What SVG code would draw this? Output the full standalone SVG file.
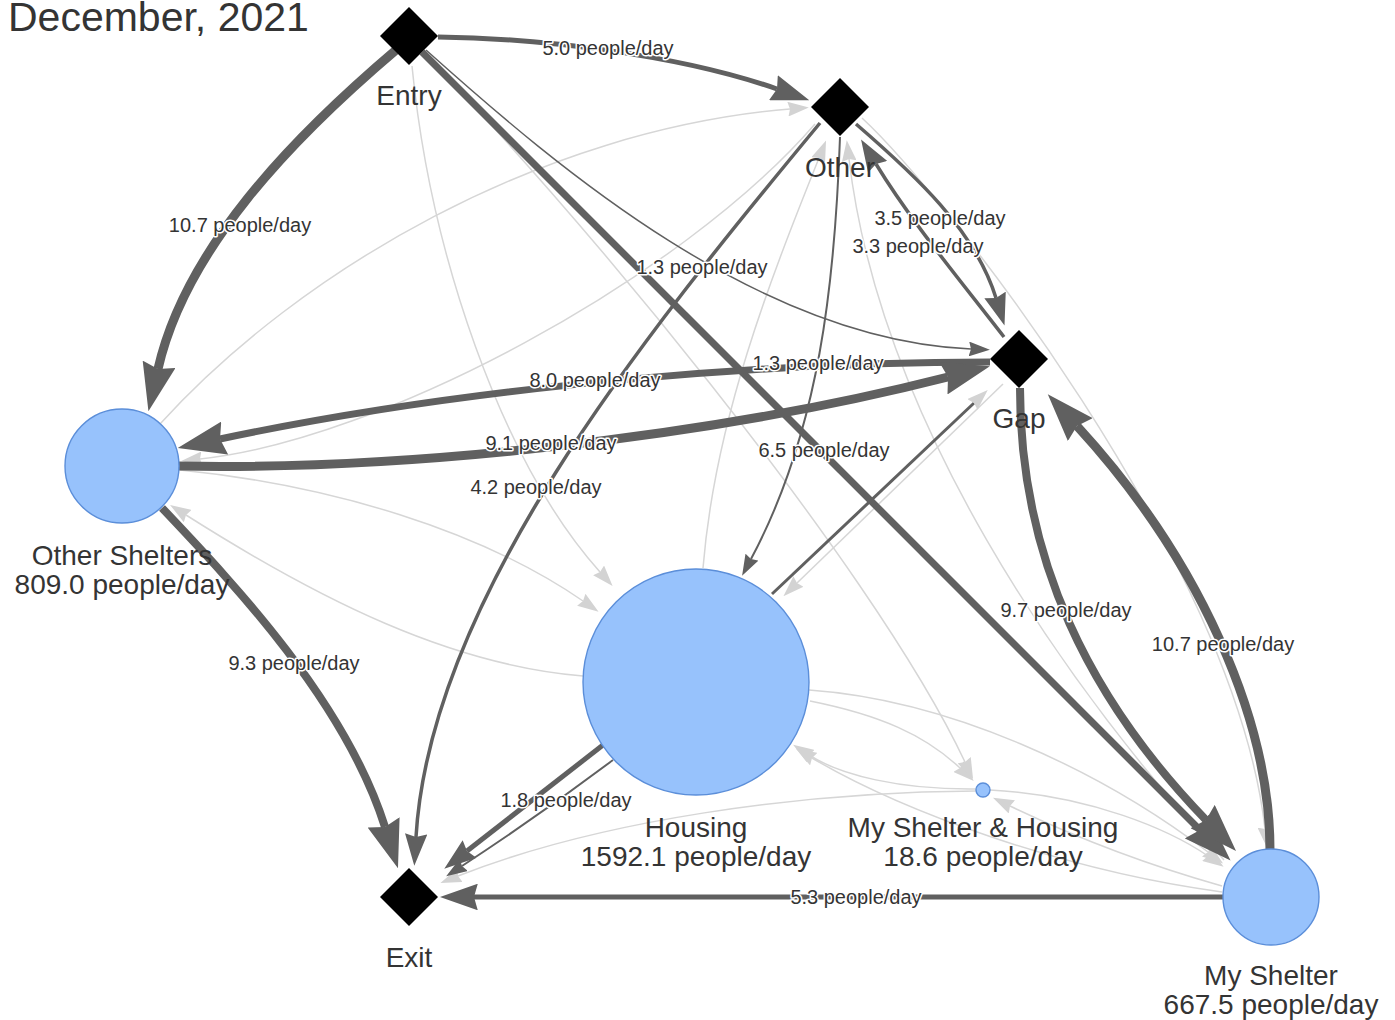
<svg xmlns="http://www.w3.org/2000/svg" width="1395" height="1020" viewBox="0 0 1395 1020">
<style>
.bg{fill:#ffffff}
.title{font-family:"Liberation Sans",Arial,sans-serif;font-size:41px;fill:#343434}
.nl{font-family:"Liberation Sans",Arial,sans-serif;font-size:28px;fill:#343434;text-anchor:middle}
.el{font-family:"Liberation Sans",Arial,sans-serif;font-size:20px;fill:#343434;text-anchor:middle;stroke:#ffffff;stroke-width:3px;paint-order:stroke;stroke-linejoin:round}
.lt{fill:none;stroke:#d6d6d6;stroke-width:1.5;marker-end:url(#ah-lt)}
.dk{fill:none;stroke:#606060}
.dia{fill:#000000}
.circ{fill:#97c2fc;stroke:#5b8ed9;stroke-width:1.4}
</style>
<defs>
<marker id="ah-l" viewBox="0 0 10 7" refX="1" refY="3.5" markerWidth="48" markerHeight="33.6" markerUnits="userSpaceOnUse" orient="auto"><path d="M0,0 L10,3.5 L0,7 L1,3.5 Z" fill="#606060"/></marker>
<marker id="ah-m2" viewBox="0 0 10 7" refX="1" refY="3.5" markerWidth="38" markerHeight="26.6" markerUnits="userSpaceOnUse" orient="auto"><path d="M0,0 L10,3.5 L0,7 L1,3.5 Z" fill="#606060"/></marker>
<marker id="ah-m" viewBox="0 0 10 7" refX="1" refY="3.5" markerWidth="32" markerHeight="22.4" markerUnits="userSpaceOnUse" orient="auto"><path d="M0,0 L10,3.5 L0,7 L1,3.5 Z" fill="#606060"/></marker>
<marker id="ah-s" viewBox="0 0 10 7" refX="1" refY="3.5" markerWidth="21" markerHeight="14.7" markerUnits="userSpaceOnUse" orient="auto"><path d="M0,0 L10,3.5 L0,7 L1,3.5 Z" fill="#606060"/></marker>
<marker id="ah-lt" viewBox="0 0 10 7" refX="1" refY="3.5" markerWidth="21" markerHeight="14.7" markerUnits="userSpaceOnUse" orient="auto"><path d="M0,0 L10,3.5 L0,7 L1,3.5 Z" fill="#d3d3d3"/></marker>
</defs>
<rect class="bg" x="0" y="0" width="1395" height="1020"/>
<text class="title" x="8" y="31">December, 2021</text>

<g id="connectors">
  <g id="light-edges">
    <path class="lt" d="M412,66 C430,250 500,460 600,572"/>
    <path class="lt" d="M180,470 C330,485 480,530 583,601"/>
    <path class="lt" d="M583,676 C450,665 320,600 186,515"/>
    <path class="lt" d="M160,424 C300,270 540,130 790,109"/>
    <path class="lt" d="M815,124 C680,280 380,440 200,459"/>
    <path class="lt" d="M703,568 C715,420 770,280 819,158"/>
    <path class="lt" d="M1224,860 C1060,680 880,420 849,159"/>
    <path class="lt" d="M862,118 C940,190 1235,560 1265,829"/>
    <path class="lt" d="M810,701 C880,715 925,735 960,768"/>
    <path class="lt" d="M420,50 C560,190 870,560 965,762"/>
    <path class="lt" d="M977,789 C900,790 840,775 809,755"/>
    <path class="lt" d="M1222,892 C1060,870 900,810 812,758"/>
    <path class="lt" d="M1222,886 C1130,860 1060,830 1010,806"/>
    <path class="lt" d="M990,790 C1090,795 1170,830 1208,856"/>
    <path class="lt" d="M809,690 C950,700 1100,770 1208,852"/>
    <path class="lt" d="M976,791 C800,792 600,820 458,876"/>
    <path class="lt" d="M1003,384 L797,583"/>
  </g>
  <g id="dark-edges">
    <path class="dk" stroke-width="9" marker-end="url(#ah-l)" d="M396,50 C290,140 185,250 158,369"/>
    <path class="dk" stroke-width="5" marker-end="url(#ah-m2)" d="M438,37 C540,38 680,55 777,89"/>
    <path class="dk" stroke-width="7" marker-end="url(#ah-l)" d="M422,52 L1200,830"/>
    <path class="dk" stroke-width="1.5" marker-end="url(#ah-s)" d="M426,50 C560,170 760,340 971,349"/>
    <path class="dk" stroke-width="3.5" marker-end="url(#ah-m)" d="M820,123 C640,340 430,600 416,837"/>
    <path class="dk" stroke-width="8" marker-end="url(#ah-l)" d="M162,508 C230,580 345,700 385,827"/>
    <path class="dk" stroke-width="7" marker-end="url(#ah-l)" d="M990,362 C800,362 500,380 220,439"/>
    <path class="dk" stroke-width="9" marker-end="url(#ah-l)" d="M178,466 C400,470 700,440 948,377"/>
    <path class="dk" stroke-width="3.5" marker-end="url(#ah-m)" d="M1004,337 C960,280 910,220 876,164"/>
    <path class="dk" stroke-width="3.5" marker-end="url(#ah-m)" d="M856,124 C915,175 975,230 996,298"/>
    <path class="dk" stroke-width="2" marker-end="url(#ah-s)" d="M840,137 C835,280 820,430 751,559"/>
    <path class="dk" stroke-width="3" marker-end="url(#ah-lt)" d="M772,594 L974,403"/>
    <path class="dk" stroke-width="8" marker-end="url(#ah-l)" d="M1020,388 C1020,560 1090,700 1206,820"/>
    <path class="dk" stroke-width="9" marker-end="url(#ah-l)" d="M1270,850 C1270,720 1200,560 1077,426"/>
    <path class="dk" stroke-width="5" marker-end="url(#ah-m2)" d="M1223,897 L474,897"/>
    <path class="dk" stroke-width="5" marker-end="url(#ah-m)" d="M603,745 L467,851"/>
    <path class="dk" stroke-width="2" marker-end="url(#ah-s)" d="M613,760 Q540,815 462,866"/>
  </g>
  <g id="edge-labels">
    <text class="el" x="608" y="55">5.0 people/day</text>
    <text class="el" x="240" y="232">10.7 people/day</text>
    <text class="el" x="702" y="274">1.3 people/day</text>
    <text class="el" x="940" y="225">3.5 people/day</text>
    <text class="el" x="918" y="253">3.3 people/day</text>
    <text class="el" x="818" y="370">1.3 people/day</text>
    <text class="el" x="595" y="387">8.0 people/day</text>
    <text class="el" x="551" y="450">9.1 people/day</text>
    <text class="el" x="824" y="457">6.5 people/day</text>
    <text class="el" x="536" y="494">4.2 people/day</text>
    <text class="el" x="1066" y="617">9.7 people/day</text>
    <text class="el" x="1223" y="651">10.7 people/day</text>
    <text class="el" x="294" y="670">9.3 people/day</text>
    <text class="el" x="566" y="807">1.8 people/day</text>
    <text class="el" x="856" y="904">5.3 people/day</text>
  </g>
</g>

<g id="node-entry">
  <polygon class="dia" points="409,7 438,36 409,65 380,36"/>
  <text class="nl" x="409" y="105">Entry</text>
</g>
<g id="node-other">
  <polygon class="dia" points="840,78 869,107 840,136 811,107"/>
  <text class="nl" x="840" y="177">Other</text>
</g>
<g id="node-gap">
  <polygon class="dia" points="1019,330 1048,359 1019,388 990,359"/>
  <text class="nl" x="1019" y="428">Gap</text>
</g>
<g id="node-exit">
  <polygon class="dia" points="409,868 438,897 409,926 380,897"/>
  <text class="nl" x="409" y="967">Exit</text>
</g>
<g id="node-other-shelters">
  <circle class="circ" cx="122" cy="466" r="57"/>
  <text class="nl" x="122" y="565">Other Shelters</text>
  <text class="nl" x="122" y="594">809.0 people/day</text>
</g>
<g id="node-housing">
  <circle class="circ" cx="696" cy="682" r="113"/>
  <text class="nl" x="696" y="837">Housing</text>
  <text class="nl" x="696" y="866">1592.1 people/day</text>
</g>
<g id="node-my-shelter-housing">
  <circle class="circ" cx="983" cy="790" r="7"/>
  <text class="nl" x="983" y="837">My Shelter &amp; Housing</text>
  <text class="nl" x="983" y="866">18.6 people/day</text>
</g>
<g id="node-my-shelter">
  <circle class="circ" cx="1271" cy="897" r="48"/>
  <text class="nl" x="1271" y="985">My Shelter</text>
  <text class="nl" x="1271" y="1014">667.5 people/day</text>
</g>
</svg>
